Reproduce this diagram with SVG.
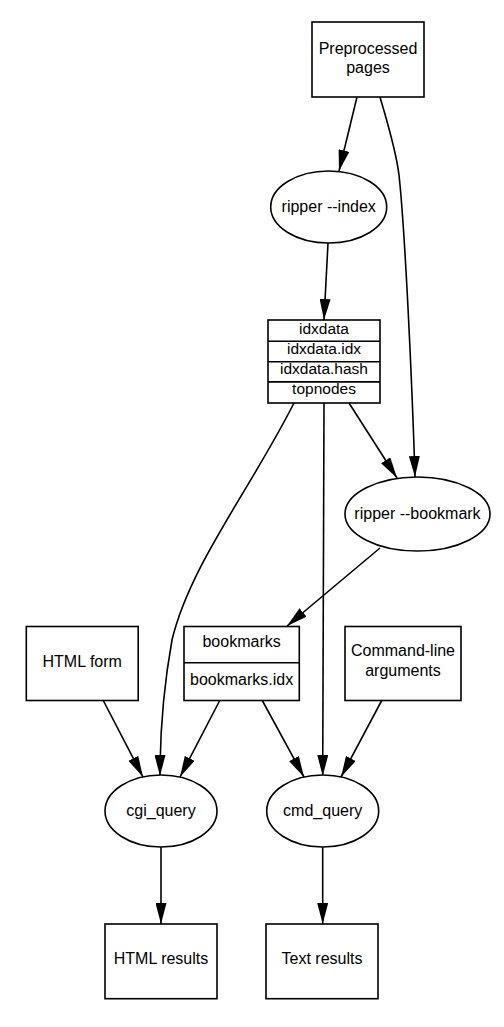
<svg xmlns="http://www.w3.org/2000/svg" width="504" height="1027" viewBox="0 0 504 1027">
<style>
.n{fill:#fff;stroke:#000;stroke-width:1.6}
.t{font-family:"Liberation Sans",Arial,sans-serif;font-size:16px;text-anchor:middle;fill:#000}
.r{font-size:15.5px}
.e{fill:none;stroke:#000;stroke-width:1.6}
</style>
<defs>
<marker id="a" viewBox="0 0 21 11" refX="21" refY="5.5" markerWidth="21" markerHeight="11" markerUnits="userSpaceOnUse" orient="auto">
<path d="M0,0 L21,5.5 L0,11 Z" fill="#000"/>
</marker>
</defs>
<rect width="504" height="1027" fill="#fff"/>
<g id="edges">
<path class="e" marker-end="url(#a)" d="M357,97 L339,171"/>
<path class="e" marker-end="url(#a)" d="M380,97 C388,125 396,150 399,175 C405,230 412,380 415,477"/>
<path class="e" marker-end="url(#a)" d="M328,243 L324,320"/>
<path class="e" marker-end="url(#a)" d="M349,403 L397,478"/>
<path class="e" marker-end="url(#a)" d="M294,403 C250,490 190,565 172,640 C163,690 160,730 160,776"/>
<path class="e" marker-end="url(#a)" d="M324,403 L322.7,776"/>
<path class="e" marker-end="url(#a)" d="M380,548 L287,626"/>
<path class="e" marker-end="url(#a)" d="M103,700 L143,777"/>
<path class="e" marker-end="url(#a)" d="M220,700 L180,777"/>
<path class="e" marker-end="url(#a)" d="M262,700 L304,777"/>
<path class="e" marker-end="url(#a)" d="M382,700 L341,777"/>
<path class="e" marker-end="url(#a)" d="M161,847 L161,924"/>
<path class="e" marker-end="url(#a)" d="M322.7,847 L322.7,924"/>
</g>
<g id="preprocessed">
<rect class="n" x="312" y="22" width="112" height="75"/>
<text class="t" x="368" y="54">Preprocessed</text>
<text class="t" x="368" y="73">pages</text>
</g>
<g id="ripper_index">
<ellipse class="n" cx="328.7" cy="207" rx="58" ry="36"/>
<text class="t" x="328.7" y="212">ripper --index</text>
</g>
<g id="idxdata">
<rect class="n" x="268" y="320" width="112" height="83"/>
<line class="e" x1="268" y1="341.2" x2="380" y2="341.2"/>
<line class="e" x1="268" y1="361.7" x2="380" y2="361.7"/>
<line class="e" x1="268" y1="381.9" x2="380" y2="381.9"/>
<text class="t r" x="324" y="333.5">idxdata</text>
<text class="t r" x="324" y="354.3">idxdata.idx</text>
<text class="t r" x="324" y="374.2">idxdata.hash</text>
<text class="t r" x="324" y="394.4">topnodes</text>
</g>
<g id="ripper_bookmark">
<ellipse class="n" cx="417.5" cy="514" rx="72.5" ry="37"/>
<text class="t" x="417.5" y="518.5">ripper --bookmark</text>
</g>
<g id="html_form">
<rect class="n" x="26.3" y="626.5" width="111.9" height="74"/>
<text class="t" x="82.2" y="667">HTML form</text>
</g>
<g id="bookmarks">
<rect class="n" x="184" y="626.5" width="115.3" height="74"/>
<line class="e" x1="184" y1="662.8" x2="299.3" y2="662.8"/>
<text class="t" x="241.6" y="647.3">bookmarks</text>
<text class="t" x="241.6" y="685">bookmarks.idx</text>
</g>
<g id="cmdline">
<rect class="n" x="345" y="626.5" width="116" height="74"/>
<text class="t" x="403" y="656">Command-line</text>
<text class="t" x="403" y="676">arguments</text>
</g>
<g id="cgi_query">
<ellipse class="n" cx="161" cy="811" rx="56" ry="36"/>
<text class="t" x="161" y="816">cgi_query</text>
</g>
<g id="cmd_query">
<ellipse class="n" cx="322.7" cy="811" rx="56" ry="36"/>
<text class="t" x="322.7" y="816">cmd_query</text>
</g>
<g id="html_results">
<rect class="n" x="105" y="924" width="112" height="74.7"/>
<text class="t" x="161" y="964">HTML results</text>
</g>
<g id="text_results">
<rect class="n" x="266" y="924" width="112" height="74.7"/>
<text class="t" x="322" y="964">Text results</text>
</g>
</svg>
